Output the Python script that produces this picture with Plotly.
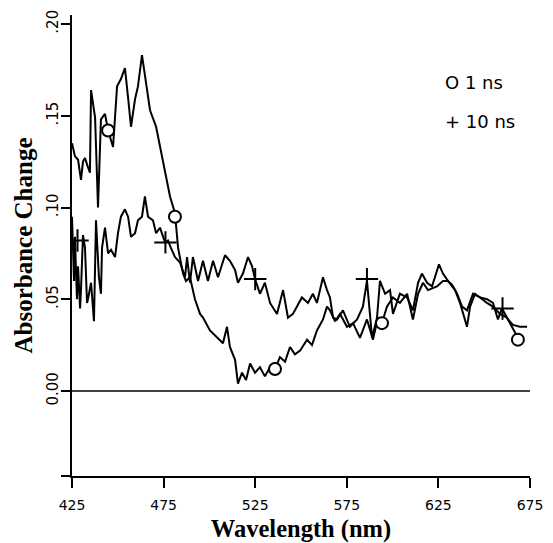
import plotly.graph_objects as go

# 1 ns trace (wavelength nm, absorbance change)
wl_1ns = [425.0, 426.6, 428.3, 429.9, 431.0, 432.1, 433.7, 434.8, 435.4, 437.6, 439.2, 440.8, 443.0, 444.7,
          447.4, 449.6, 451.7, 453.9, 455.6, 457.2, 459.4, 461.0, 463.2, 465.4, 467.6, 470.9, 473.6, 476.3,
          478.5, 481.2, 482.9, 485.6, 487.2, 489.4, 492.1, 494.9, 496.5, 500.3, 504.1, 507.4, 509.6, 511.2,
          514.0, 515.6, 517.8, 520.0, 522.2, 524.9, 527.6, 530.3, 533.1, 535.8, 538.5, 541.3, 544.0, 546.7,
          549.5, 553.3, 556.0, 558.7, 562.0, 564.2, 565.8, 568.6, 571.3, 575.1, 578.4, 582.2, 586.0, 589.3,
          592.0, 594.2, 596.9, 600.2, 604.0, 607.9, 611.1, 613.9, 616.6, 619.3, 624.2, 627.5, 630.2, 632.4,
          635.2, 637.9, 640.6, 643.9, 647.7, 651.5, 654.8, 658.6, 662.4, 665.7, 668.4, 671.0]
abs_1ns = [0.135, 0.128, 0.126, 0.115, 0.125, 0.127, 0.122, 0.119, 0.164, 0.149, 0.100, 0.148, 0.151, 0.142,
           0.133, 0.166, 0.170, 0.176, 0.160, 0.144, 0.159, 0.166, 0.183, 0.168, 0.153, 0.144, 0.130, 0.117,
           0.106, 0.097, 0.078, 0.064, 0.060, 0.062, 0.050, 0.042, 0.040, 0.033, 0.029, 0.026, 0.035, 0.024,
           0.017, 0.004, 0.010, 0.006, 0.015, 0.010, 0.013, 0.008, 0.013, 0.012, 0.0185, 0.016, 0.024, 0.020,
           0.022, 0.028, 0.025, 0.033, 0.039, 0.046, 0.044, 0.038, 0.042, 0.035, 0.037, 0.029, 0.039, 0.028,
           0.040, 0.037, 0.046, 0.051, 0.048, 0.053, 0.039, 0.053, 0.059, 0.055, 0.057, 0.060, 0.060, 0.058,
           0.053, 0.046, 0.044, 0.053, 0.051, 0.048, 0.046, 0.042, 0.040, 0.034, 0.029, 0.029]

# 10 ns trace
wl_10ns = [425.0, 426.1, 426.6, 427.7, 428.3, 429.4, 429.9, 431.0, 432.1, 433.2, 433.7, 435.4, 437.0, 438.1,
           439.7, 440.8, 441.4, 443.0, 444.7, 446.3, 448.5, 450.1, 451.7, 453.9, 455.6, 457.2, 459.4, 461.0,
           463.2, 464.8, 466.5, 469.2, 470.9, 473.0, 475.8, 477.4, 479.0, 481.2, 484.0, 486.7, 487.8, 489.4,
           491.0, 493.8, 496.5, 499.2, 502.0, 504.7, 508.5, 511.2, 514.0, 515.6, 518.3, 521.1, 523.3, 524.9,
           527.6, 530.3, 533.1, 536.9, 540.2, 542.9, 545.6, 550.5, 553.8, 556.5, 558.7, 562.0, 564.2, 565.8,
           567.5, 569.7, 572.9, 576.7, 580.6, 583.8, 586.0, 588.8, 591.5, 593.1, 595.9, 598.6, 600.2, 604.0,
           607.9, 611.1, 613.9, 616.0, 618.8, 621.5, 623.1, 625.3, 627.5, 630.2, 634.1, 636.8, 640.6, 642.3,
           645.0, 647.7, 651.5, 654.8, 657.5, 659.7, 663.0, 665.7, 669.5, 673.4]
abs_10ns = [0.095, 0.060, 0.084, 0.050, 0.068, 0.045, 0.055, 0.085, 0.078, 0.048, 0.050, 0.059, 0.038, 0.093,
            0.062, 0.053, 0.078, 0.089, 0.075, 0.077, 0.073, 0.086, 0.095, 0.099, 0.095, 0.084, 0.086, 0.093,
            0.095, 0.106, 0.095, 0.093, 0.086, 0.089, 0.081, 0.082, 0.078, 0.073, 0.070, 0.062, 0.073, 0.059,
            0.073, 0.060, 0.071, 0.060, 0.071, 0.062, 0.074, 0.071, 0.066, 0.059, 0.064, 0.073, 0.068, 0.061,
            0.053, 0.059, 0.048, 0.042, 0.055, 0.040, 0.042, 0.051, 0.048, 0.053, 0.048, 0.062, 0.055, 0.051,
            0.040, 0.039, 0.044, 0.035, 0.039, 0.046, 0.060, 0.029, 0.040, 0.060, 0.053, 0.055, 0.042, 0.053,
            0.051, 0.044, 0.059, 0.064, 0.059, 0.057, 0.062, 0.069, 0.064, 0.060, 0.055, 0.048, 0.035, 0.046,
            0.053, 0.051, 0.050, 0.048, 0.039, 0.045, 0.039, 0.036, 0.035, 0.035]

# symbol positions
circle_wl = [444.7, 481.2, 535.8, 594.2, 668.4]
circle_abs = [0.142, 0.095, 0.012, 0.037, 0.028]
plus_wl = [428.0, 476.0, 525.0, 586.0, 660.0]
plus_abs = [0.082, 0.081, 0.061, 0.061, 0.045]

x_ticks = [425, 475, 525, 575, 625, 675]
y_ticks = [-0.0463, 0.0, 0.05, 0.10, 0.15, 0.20]
y_tick_text = ["", "0.00", ".05", ".10", ".15", ".20"]

fig = go.Figure()
line = dict(color="black", width=2)
fig.add_trace(go.Scatter(x=wl_1ns, y=abs_1ns, mode="lines", line=line, showlegend=False))
fig.add_trace(go.Scatter(x=wl_10ns, y=abs_10ns, mode="lines", line=line, showlegend=False))
fig.add_trace(go.Scatter(x=circle_wl, y=circle_abs, mode="markers", showlegend=False,
                         marker=dict(symbol="circle", size=12, color="white",
                                     line=dict(color="black", width=2))))
fig.add_trace(go.Scatter(x=plus_wl, y=plus_abs, mode="markers", showlegend=False,
                         marker=dict(symbol="cross-thin", size=16, color="black",
                                     line=dict(color="black", width=2))))

fig.add_shape(type="line", xref="paper", x0=0, x1=1, yref="y", y0=0, y1=0,
              line=dict(color="black", width=1.5))

fig.add_annotation(text="O 1 ns", xref="paper", yref="paper", x=0.81, y=0.8525,
                   xanchor="left", yanchor="middle", showarrow=False,
                   font=dict(family="DejaVu Sans", size=18, color="black"))
fig.add_annotation(text="+ 10 ns", xref="paper", yref="paper", x=0.81, y=0.768,
                   xanchor="left", yanchor="middle", showarrow=False,
                   font=dict(family="DejaVu Sans", size=18, color="black"))

fig.update_layout(
    width=553, height=543,
    margin=dict(l=72, r=23, t=15, b=67),
    plot_bgcolor="white", paper_bgcolor="white",
    xaxis=dict(range=[425, 675], tickvals=x_ticks, ticks="outside", ticklen=10, tickwidth=2,
               tickcolor="black", showline=True, linecolor="black", linewidth=2,
               showgrid=False, zeroline=False, ticklabelstandoff=5, automargin=False,
               tickfont=dict(family="DejaVu Sans", size=14, color="black"),
               title=dict(text="<b>Wavelength (nm)</b>", standoff=13,
                          font=dict(family="Liberation Serif", size=24.5, color="black"))),
    yaxis=dict(range=[-0.0463, 0.2049], tickvals=y_ticks, ticktext=y_tick_text, tickangle=-90,
               ticks="outside", ticklen=9, tickwidth=2, tickcolor="black",
               showline=True, linecolor="black", linewidth=2, showgrid=False, zeroline=False,
               ticklabelstandoff=-3, automargin=False,
               tickfont=dict(family="DejaVu Sans", size=15, color="black"),
               title=dict(text="<b>Absorbance Change</b>", standoff=4,
                          font=dict(family="Liberation Serif", size=25, color="black"))),
)

fig.write_html("out.html")
